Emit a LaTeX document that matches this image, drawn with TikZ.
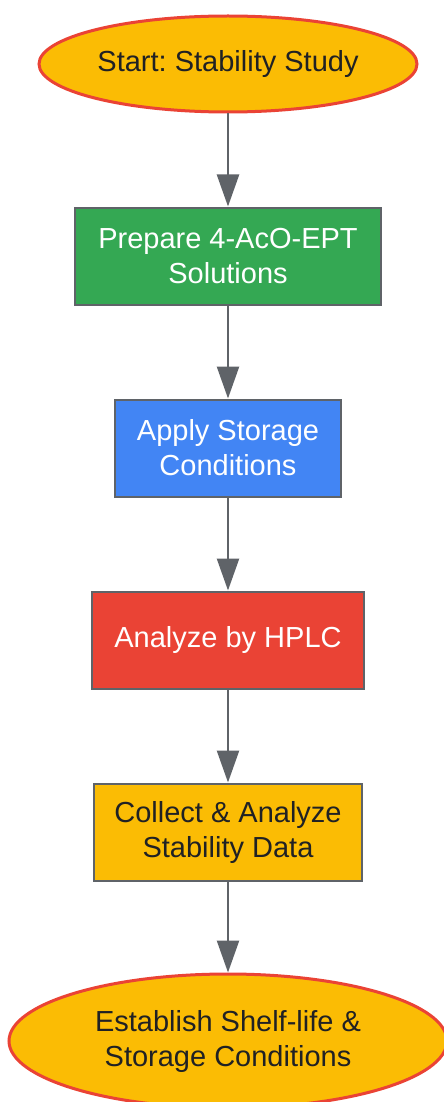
\documentclass[tikz,border=0pt]{standalone}
\usepackage{fontspec}
\setmainfont{Liberation Sans}
\frenchspacing
\usetikzlibrary{arrows.meta,shapes.geometric}
\definecolor{gyellow}{HTML}{FBBC04}
\definecolor{ggreen}{HTML}{34A853}
\definecolor{gblue}{HTML}{4285F4}
\definecolor{gred}{HTML}{EA4335}
\definecolor{ggray}{HTML}{5F6368}
\definecolor{gdark}{HTML}{202124}
\tikzset{
	term/.style={ellipse, draw=gred, line width=3pt, fill=gyellow, text=gdark, inner sep=0pt, align=center, font=\fontsize{29}{35}\selectfont},
	stepbox/.style={rectangle, draw=ggray, line width=2pt, inner sep=0pt, minimum height=97pt, align=center, font=\fontsize{29}{35}\selectfont},
	flow/.style={draw=ggray, line width=2.5pt, -{Triangle[width=22pt,length=32pt]}}
}

\begin{document}
\begin{tikzpicture}[x=1pt, y=-1pt]
				\useasboundingbox (0,0) rectangle (444,1102);
				
				\node[term, minimum width=378pt, minimum height=96pt] (start) at (228,64) {Start: Stability Study};
				\node[stepbox, fill=ggreen, text=white, minimum width=306pt] (prepare) at (228,256) {Prepare 4-AcO-EPT\\Solutions};
				\node[stepbox, fill=gblue, text=white, minimum width=226pt] (storage) at (228,448) {Apply Storage\\Conditions};
				\node[stepbox, fill=gred, text=white, minimum width=272pt] (hplc) at (228,640) {Analyze by HPLC};
				\node[stepbox, fill=gyellow, text=gdark, minimum width=268pt] (collect) at (228,832) {Collect \& Analyze\\Stability Data};
				\node[term, minimum width=438pt, minimum height=134pt] (shelf) at (228,1041) {Establish Shelf-life \&\\Storage Conditions};
				
				\draw[flow] (start) -- (prepare);
				\draw[flow] (prepare) -- (storage);
				\draw[flow] (storage) -- (hplc);
				\draw[flow] (hplc) -- (collect);
				\draw[flow] (collect) -- (shelf);
\end{tikzpicture}
\end{document}
